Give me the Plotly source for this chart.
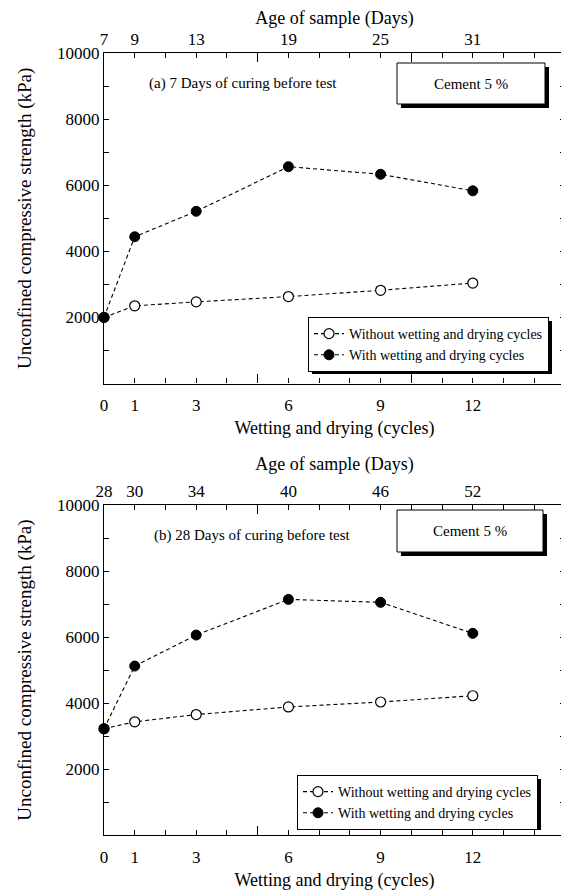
import plotly.graph_objects as go

# ---------------- data ----------------
cycles = [0, 1, 3, 6, 9, 12]
age_a = ['7', '9', '13', '19', '25', '31']
age_b = ['28', '30', '34', '40', '46', '52']
without_a = [2000, 2350, 2470, 2630, 2820, 3040]
with_a = [2000, 4440, 5210, 6560, 6330, 5830]
without_b = [3220, 3430, 3650, 3880, 4030, 4220]
with_b = [3220, 5120, 6060, 7140, 7050, 6110]
y_ticks = [2000, 4000, 6000, 8000, 10000]
y_labels = ['2000', '4000', '6000', '8000', '10000']
y_minor = [1000, 3000, 5000, 7000, 9000]
x_minor_rest = [2, 4, 7, 8, 11, 13, 14]
x_major_long = [5, 10]

name_without = 'Without wetting and drying cycles'
name_with = 'With wetting and drying cycles'

# ---------------- geometry (reference pixels) ----------------
OFF = 8                      # page body margin of the browser
W, H = 569 - OFF, 893 - OFF  # figure size so that it ends at the window edge
L, R, T, B = 104, 565, 53, 835


def px(x):
    return (x - L) / (R - L)


def py(y):
    return (B - y) / (B - T)


FONT = 'Liberation Serif'
top_dom = [py(383.5), 1.0]
bot_dom = [0.0, py(505)]

fig = go.Figure()

line_style = dict(color='black', width=1.1, dash='4px,3px')
open_marker = dict(symbol='circle', size=10, color='white', line=dict(color='black', width=1.2))
fill_marker = dict(symbol='circle', size=10, color='black', line=dict(color='black', width=1))

fig.add_trace(go.Scatter(x=cycles, y=without_a, mode='lines+markers', name=name_without, cliponaxis=False,
                         line=line_style, marker=open_marker, xaxis='x', yaxis='y', legend='legend'))
fig.add_trace(go.Scatter(x=cycles, y=with_a, mode='lines+markers', name=name_with, cliponaxis=False,
                         line=line_style, marker=fill_marker, xaxis='x2', yaxis='y', legend='legend'))
fig.add_trace(go.Scatter(x=cycles, y=without_b, mode='lines+markers', name=name_without, cliponaxis=False,
                         line=line_style, marker=open_marker, xaxis='x3', yaxis='y2', legend='legend2'))
fig.add_trace(go.Scatter(x=cycles, y=with_b, mode='lines+markers', name=name_with, cliponaxis=False,
                         line=line_style, marker=fill_marker, xaxis='x4', yaxis='y2', legend='legend2'))

tickfont = dict(family=FONT, size=17, color='black')
titlefont = dict(family=FONT, size=18, color='black')
ytitlefont = dict(family=FONT, size=19, color='black')
xr = [0, 15]


def xbottom(anchor):
    return dict(range=xr, anchor=anchor, tickmode='array', tickvals=cycles,
                ticks='inside', ticklen=5, tickwidth=1, tickcolor='black',
                minor=dict(tickmode='array', tickvals=x_major_long, ticks='inside', ticklen=9,
                           tickwidth=1, tickcolor='black', showgrid=False),
                showline=True, linecolor='black', linewidth=1.2, mirror='allticks',
                showgrid=False, zeroline=False, tickfont=tickfont, automargin=False,
                ticklabelstandoff=6,
                title=dict(text='Wetting and drying (cycles)', font=titlefont, standoff=7))


def xtop(anchor, overlay, labels):
    return dict(range=xr, anchor=anchor, overlaying=overlay, side='top', tickmode='array',
                tickvals=cycles, ticktext=labels, ticks='inside', ticklen=5, tickwidth=1,
                tickcolor='black',
                minor=dict(tickmode='array', tickvals=x_minor_rest, ticks='inside', ticklen=5,
                           tickwidth=1, tickcolor='black', showgrid=False),
                showline=True, linecolor='black', linewidth=1.2, mirror='allticks',
                showgrid=False, zeroline=False, tickfont=tickfont, automargin=False,
                title=dict(text='Age of sample (Days)', font=titlefont, standoff=6))


def yax(domain, anchor):
    return dict(domain=domain, anchor=anchor, range=[0, 10000], tickmode='array', tickvals=y_ticks,
                ticktext=y_labels,
                ticks='inside', ticklen=5, tickwidth=1, tickcolor='black',
                minor=dict(tickmode='array', tickvals=y_minor, ticks='inside', ticklen=5,
                           tickwidth=1, tickcolor='black', showgrid=False),
                showline=True, linecolor='black', linewidth=1.2, mirror='allticks',
                showgrid=False, zeroline=False, tickfont=tickfont, automargin=False,
                title=dict(text='Unconfined compressive strength (kPa)', font=ytitlefont, standoff=20))


leg_font = dict(family=FONT, size=14, color='black')
fig.update_layout(
    width=W, height=H,
    margin=dict(l=L - OFF, r=W - (R - OFF), t=T - OFF, b=H - (B - OFF)),
    paper_bgcolor='white', plot_bgcolor='white',
    font=dict(family=FONT, color='black'),
    xaxis=xbottom('y'),
    xaxis2=xtop('y', 'x', age_a),
    xaxis3=xbottom('y2'),
    xaxis4=xtop('y2', 'x3', age_b),
    yaxis=yax(top_dom, 'x'),
    yaxis2=yax(bot_dom, 'x3'),
    legend=dict(x=px(308), y=py(317), xanchor='left', yanchor='top', bgcolor='white',
                bordercolor='black', borderwidth=1, font=leg_font,
                itemwidth=30, tracegroupgap=0),
    legend2=dict(x=px(297), y=py(775), xanchor='left', yanchor='top', bgcolor='white',
                 bordercolor='black', borderwidth=1, font=leg_font,
                 itemwidth=30, tracegroupgap=0),
)

shapes = []


def box_with_shadow(x0, y0, x1, y1, off=4):
    shapes.append(dict(type='rect', xref='paper', yref='paper', x0=px(x0 + off), x1=px(x1 + off),
                       y0=py(y0 + off), y1=py(y1 + off), fillcolor='black', line=dict(width=0)))
    shapes.append(dict(type='rect', xref='paper', yref='paper', x0=px(x0), x1=px(x1),
                       y0=py(y0), y1=py(y1), fillcolor='white', line=dict(color='black', width=1)))


def shadow_only(x0, y0, x1, y1):
    shapes.append(dict(type='rect', xref='paper', yref='paper', x0=px(x0), x1=px(x1),
                       y0=py(y0), y1=py(y1), fillcolor='black', line=dict(width=0)))


box_with_shadow(397, 63, 545, 104)
box_with_shadow(397, 510, 543, 552)
shadow_only(312, 321, 552, 374)
shadow_only(301, 779, 541, 830)
fig.update_layout(shapes=shapes)

annfont = dict(family=FONT, size=15, color='black')
for txt, ax_, ay_ in [('(a) 7 Days of curing before test', 243, 84),
                      ('Cement 5 %', 471, 84),
                      ('(b) 28 Days of curing before test', 252, 535),
                      ('Cement 5 %', 470, 531)]:
    fig.add_annotation(text=txt, xref='paper', yref='paper', x=px(ax_), y=py(ay_),
                       xanchor='center', yanchor='middle', showarrow=False, font=annfont)

fig.write_html('out.html')
